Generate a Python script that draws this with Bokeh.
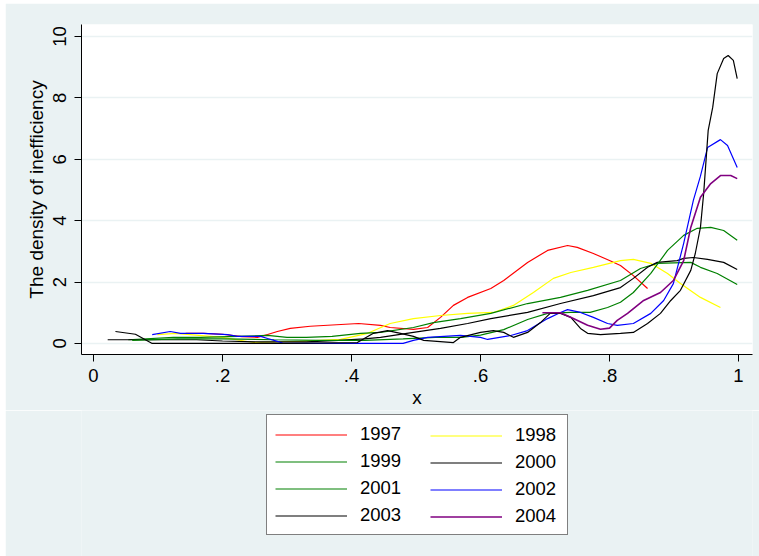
from bokeh.plotting import figure
from bokeh.models import (Range1d, FixedTicker, Legend, LegendItem, Spacer)
from bokeh.layouts import row, column
from bokeh.embed import file_html
from bokeh.resources import INLINE

# ---------------- data ----------------
years = ["1997", "1998", "1999", "2000", "2001", "2002", "2003", "2004"]
colors = ["#FF0000", "#FFFF00", "#008000", "#000000", "#008000", "#0000FF", "#000000", "#800080"]

x1997 = [0.143, 0.17, 0.2, 0.23, 0.254, 0.27, 0.285, 0.305, 0.336, 0.411, 0.445, 0.46, 0.496, 0.518, 0.538,
         0.558, 0.58, 0.616, 0.636, 0.673, 0.704, 0.735, 0.75, 0.775, 0.80, 0.817, 0.837, 0.859]
y1997 = [0.33, 0.33, 0.30, 0.22, 0.20, 0.29, 0.39, 0.49, 0.56, 0.65, 0.59, 0.52, 0.46, 0.52, 0.85,
         1.24, 1.50, 1.79, 2.05, 2.64, 3.03, 3.19, 3.13, 2.93, 2.70, 2.54, 2.21, 1.79]

x1998 = [0.099, 0.127, 0.2, 0.248, 0.32, 0.383, 0.425, 0.46, 0.496, 0.538, 0.58, 0.62, 0.651, 0.682,
         0.713, 0.74, 0.775, 0.817, 0.837, 0.864, 0.89, 0.91, 0.941, 0.972]
y1998 = [0.29, 0.33, 0.20, 0.03, 0.07, 0.13, 0.33, 0.65, 0.81, 0.91, 0.98, 1.01, 1.24, 1.66,
         2.12, 2.31, 2.48, 2.70, 2.74, 2.61, 2.28, 1.95, 1.50, 1.17]

x1999 = [0.054, 0.124, 0.166, 0.27, 0.30, 0.33, 0.37, 0.414, 0.445, 0.496, 0.527, 0.569, 0.616, 0.673,
         0.724, 0.766, 0.817, 0.848, 0.874, 0.926, 0.941, 0.967, 0.998]
y1999 = [0.12, 0.20, 0.20, 0.26, 0.20, 0.20, 0.23, 0.33, 0.36, 0.52, 0.68, 0.81, 0.98, 1.30,
         1.50, 1.73, 2.05, 2.44, 2.61, 2.64, 2.48, 2.28, 1.92]

x2000 = [0.022, 0.10, 0.16, 0.20, 0.26, 0.33, 0.38, 0.42, 0.445, 0.496, 0.538, 0.58, 0.616, 0.673,
         0.724, 0.775, 0.817, 0.837, 0.859, 0.874, 0.905, 0.915, 0.93, 0.952, 0.977, 0.998]
y2000 = [0.12, 0.12, 0.12, 0.08, 0.05, 0.05, 0.10, 0.15, 0.20, 0.36, 0.49, 0.65, 0.81, 1.01,
         1.30, 1.56, 1.82, 2.12, 2.48, 2.64, 2.70, 2.77, 2.80, 2.74, 2.64, 2.41]

x2001 = [0.06, 0.13, 0.20, 0.28, 0.35, 0.42, 0.48, 0.53, 0.57, 0.60, 0.636, 0.673, 0.704, 0.74, 0.77,
         0.797, 0.817, 0.837, 0.864, 0.89, 0.915, 0.936, 0.957, 0.977, 0.998]
y2001 = [0.10, 0.15, 0.15, 0.12, 0.10, 0.10, 0.15, 0.20, 0.20, 0.27, 0.45, 0.78, 0.98, 1.01, 1.01,
         1.17, 1.34, 1.66, 2.28, 3.03, 3.52, 3.75, 3.78, 3.68, 3.36]

x2002 = [0.091, 0.119, 0.135, 0.171, 0.208, 0.223, 0.259, 0.27, 0.285, 0.295, 0.40, 0.48, 0.496, 0.518,
         0.569, 0.60, 0.611, 0.647, 0.673, 0.704, 0.724, 0.735, 0.755, 0.775, 0.797, 0.812, 0.837,
         0.864, 0.884, 0.899, 0.915, 0.93, 0.941, 0.952, 0.972, 0.983, 0.998]
y2002 = [0.29, 0.39, 0.33, 0.33, 0.29, 0.23, 0.23, 0.16, 0.07, 0.00, 0.00, 0.00, 0.10, 0.20,
         0.26, 0.20, 0.13, 0.26, 0.42, 0.81, 1.01, 1.10, 1.01, 0.85, 0.65, 0.59, 0.65,
         0.98, 1.40, 1.95, 3.26, 4.66, 5.45, 6.38, 6.64, 6.45, 5.73]

x2003 = [0.034, 0.065, 0.091, 0.20, 0.30, 0.409, 0.434, 0.456, 0.476, 0.496, 0.512, 0.558, 0.569, 0.60,
         0.62, 0.636, 0.651, 0.673, 0.693, 0.708, 0.724, 0.74, 0.755, 0.766, 0.786, 0.817, 0.837,
         0.859, 0.879, 0.895, 0.91, 0.926, 0.933, 0.941, 0.946, 0.953, 0.96, 0.967, 0.977, 0.984,
         0.992, 0.998]
y2003 = [0.39, 0.30, 0.00, 0.00, 0.00, 0.03, 0.33, 0.42, 0.33, 0.23, 0.10, 0.03, 0.20, 0.36,
         0.42, 0.36, 0.20, 0.36, 0.68, 0.98, 0.98, 0.85, 0.49, 0.33, 0.29, 0.33, 0.36,
         0.65, 0.98, 1.40, 1.73, 2.38, 2.93, 3.78, 4.89, 6.94, 7.69, 8.79, 9.28, 9.38,
         9.22, 8.63]

x2004 = [0.696, 0.724, 0.744, 0.766, 0.786, 0.80, 0.812, 0.828, 0.853, 0.879, 0.899, 0.915, 0.926,
         0.941, 0.957, 0.972, 0.988, 0.998]
y2004 = [1.00, 1.00, 0.81, 0.59, 0.46, 0.50, 0.75, 0.98, 1.40, 1.66, 2.05, 2.70, 3.78,
         4.76, 5.21, 5.47, 5.47, 5.37]

xs = [x1997, x1998, x1999, x2000, x2001, x2002, x2003, x2004]
ys = [y1997, y1998, y1999, y2000, y2001, y2002, y2003, y2004]

x_ticks = [0, 0.2, 0.4, 0.6, 0.8, 1]
x_tick_labels = ["0", ".2", ".4", ".6", ".8", "1"]
y_ticks = [0, 2, 4, 6, 8, 10]

# ---------------- styling ----------------
BG = "#EAF2F3"
FONT = "Liberation Sans"
FS = "18.5px"

p = figure(width=754, height=407, output_backend="svg", toolbar_location=None,
           x_range=Range1d(-0.0186, 1.0217), y_range=Range1d(-0.36, 10.39),
           min_border_left=76, min_border_right=7, min_border_top=21, min_border_bottom=56)
p.border_fill_color = BG
p.background_fill_color = "white"
p.outline_line_color = None

p.xgrid.visible = False
p.ygrid.grid_line_color = BG
p.ygrid.grid_line_width = 1.5
p.ygrid.ticker = FixedTicker(ticks=y_ticks)

p.xaxis.ticker = FixedTicker(ticks=x_ticks)
p.xaxis.major_label_overrides = {t: l for t, l in zip(x_ticks, x_tick_labels)}
p.yaxis.ticker = FixedTicker(ticks=y_ticks)
p.yaxis.major_label_orientation = "vertical"

for ax in (p.xaxis[0], p.yaxis[0]):
    ax.axis_line_color = "black"
    ax.axis_line_width = 1
    ax.major_tick_line_color = "black"
    ax.major_tick_out = 7
    ax.major_tick_in = 0
    ax.minor_tick_line_color = None
    ax.major_label_text_font = FONT
    ax.major_label_text_font_size = FS
    ax.major_label_text_color = "black"
    ax.axis_label_text_font = FONT
    ax.axis_label_text_font_size = "19px"
    ax.axis_label_text_font_style = "normal"
    ax.axis_label_text_color = "black"

p.xaxis.axis_label = "x"
p.xaxis.major_label_standoff = 7
p.xaxis.axis_label_standoff = 2
p.yaxis.axis_label = "The density of inefficiency"
p.yaxis.major_label_standoff = 8
p.yaxis.axis_label_standoff = 4

for x, y, c in zip(xs, ys, colors):
    lw = 1.6 if c == "#800080" else 1.2
    p.line(x, y, line_color=c, line_width=lw)

# ---------------- legend (in a strip below the plot) ----------------
# (frame of this strip is aligned by the column layout with the main plot's frame)
pl = figure(width=754, height=146, output_backend="svg", toolbar_location=None,
            x_axis_type=None, y_axis_type=None, min_border=0,
            x_range=Range1d(0, 1), y_range=Range1d(0, 1))
pl.border_fill_color = BG
pl.background_fill_color = BG
pl.outline_line_color = None
pl.grid.visible = False

leg_renderers = []
for c in colors:
    lw = 1.6 if c == "#800080" else 1.2
    # legend-only handles, placed outside the visible range of this strip
    leg_renderers.append(pl.line([-10, -9], [-10, -9], line_color=c, line_width=lw))

common = dict(label_text_font=FONT, label_text_font_size=FS, label_text_color="black",
              glyph_width=72, glyph_height=21, label_height=21, label_standoff=13,
              spacing=5, padding=8, margin=0, orientation="vertical")

items_a = [LegendItem(label=years[i], renderers=[leg_renderers[i]]) for i in (0, 2, 4, 6)]
items_b = [LegendItem(label=years[i], renderers=[leg_renderers[i]]) for i in (1, 3, 5, 7)]

leg_a = Legend(items=items_a, location=(185, 21), border_line_color="black",
               border_line_width=1, background_fill_color="white", background_fill_alpha=1,
               label_width=199, **common)
leg_b = Legend(items=items_b, location=(341, 21), border_line_alpha=0,
               background_fill_alpha=0, label_width=42, **common)
pl.add_layout(leg_a)
pl.add_layout(leg_b)

layout = row(Spacer(width=5), column(Spacer(height=3), p, pl))

open("out.html", "w").write(file_html(layout, INLINE))
